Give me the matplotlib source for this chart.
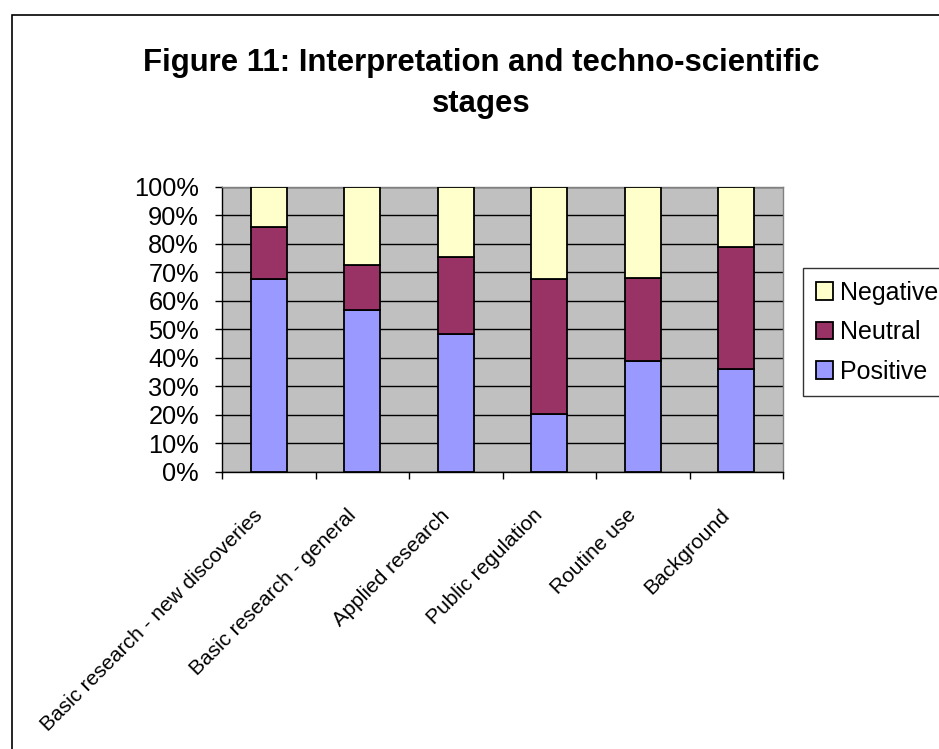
import matplotlib
matplotlib.use("Agg")
import matplotlib.pyplot as plt
from matplotlib.patches import Rectangle
import matplotlib.transforms as mtransforms
import numpy as np

categories = ["Basic research - new discoveries", "Basic research - general",
              "Applied research", "Public regulation", "Routine use", "Background"]
positive = [67.5, 56.7, 48.3, 20.2, 38.8, 36.0]
neutral = [18.5, 15.8, 27.0, 47.3, 29.2, 42.7]
negative = [14.0, 27.5, 24.7, 32.5, 32.0, 21.3]
yticks = [0, 10, 20, 30, 40, 50, 60, 70, 80, 90, 100]
ytick_labels = [f"{v}%" for v in yticks]
title_lines = ["Figure 11: Interpretation and techno-scientific", "stages"]

plt.rcParams['font.family'] = ['Liberation Sans', 'DejaVu Sans']

W, H = 939, 749
fig = plt.figure(figsize=(W / 100, H / 100), dpi=100)
fig.patch.set_facecolor("white")

# outer chart border (extends beyond the image on right/bottom)
fig.add_artist(Rectangle((12 / W, -0.1), 1.2, 1 - 15 / H + 0.1, transform=fig.transFigure,
                         fill=False, edgecolor="black", linewidth=1.2))

ax = fig.add_axes([222 / W, 1 - 471.7 / H, (783 - 222) / W, (471.7 - 186.7) / H])
ax.set_facecolor("#C0C0C0")

x = np.arange(len(categories))
w = 0.39
ek = dict(edgecolor="black", linewidth=1.3)
b1 = ax.bar(x, positive, w, color="#9999FF", label="Positive", **ek, zorder=3)
b2 = ax.bar(x, neutral, w, bottom=positive, color="#993366", label="Neutral", **ek, zorder=3)
bot2 = [p + n for p, n in zip(positive, neutral)]
b3 = ax.bar(x, negative, w, bottom=bot2, color="#FFFFCC", label="Negative", **ek, zorder=3)

ax.set_xlim(-0.5, len(categories) - 0.5)
ax.set_ylim(0, 100)
ax.set_yticks(yticks)
ax.set_yticklabels(ytick_labels, fontsize=18.3)
ax.yaxis.grid(True, color="black", linewidth=1.0, zorder=0)
ax.set_axisbelow(True)
ax.tick_params(axis="y", direction="out", length=5, width=1, color="black", pad=11.5)

ax.set_xticks(x)
ax.set_xticklabels([])
ax.tick_params(axis="x", which="major", length=0)
ax.set_xticks(np.arange(-0.5, len(categories), 1.0), minor=True)
ax.tick_params(axis="x", which="minor", direction="out", length=5, width=1, color="black")

# rotated category labels, anchored below each category centre
trans = mtransforms.blended_transform_factory(ax.transData, ax.transAxes) + \
    mtransforms.ScaledTranslation(-16 / 100, -34 / 100, fig.dpi_scale_trans)
for xi, lab in zip(x, categories):
    ax.text(xi, 0, lab, transform=trans, rotation=45, ha="right", va="top",
            rotation_mode="anchor", fontsize=15)

for s in ["top", "right"]:
    ax.spines[s].set_color("#808080")
    ax.spines[s].set_linewidth(1.0)
for s in ["left", "bottom"]:
    ax.spines[s].set_color("black")
    ax.spines[s].set_linewidth(1.0)

fig.text(481 / W, 1 - 71 / H, title_lines[0], ha="center", va="baseline",
         fontsize=22.4, fontweight="bold")
fig.text(481 / W, 1 - 112 / H, title_lines[1], ha="center", va="baseline",
         fontsize=22.4, fontweight="bold")

leg = fig.legend(handles=[b3, b2, b1], labels=["Negative", "Neutral", "Positive"],
                 loc="upper left", bbox_to_anchor=(803 / W, 1 - 268 / H),
                 fontsize=18, frameon=True, fancybox=False, borderpad=0.5,
                 handlelength=0.7, handleheight=0.7, handletextpad=0.3,
                 labelspacing=0.62, borderaxespad=0)
leg.get_frame().set_edgecolor("black")
leg.get_frame().set_linewidth(1.0)

fig.savefig("out.png", dpi=100, facecolor="white")
